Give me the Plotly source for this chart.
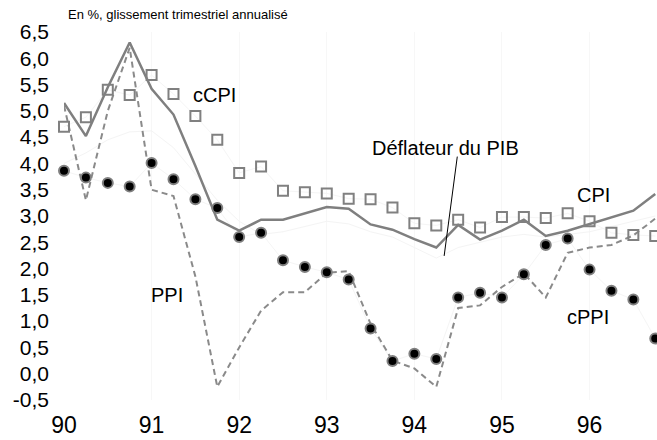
import plotly.graph_objects as go

# Quarterly dates (years 90..96, 4 quarters)
quarters = [90 + i * 0.25 for i in range(28)]

cpi = [5.15, 4.52, 5.45, 6.3, 5.42, 4.93, 3.95, 2.93,
       2.72, 2.93, 2.93, 3.05, 3.17, 3.14, 2.84, 2.74,
       2.56, 2.4, 2.83, 2.55, 2.72, 2.93, 2.62, 2.72,
       2.85, 2.97, 3.1, 3.42]

ppi = [5.1, 3.3, 5.0, 6.2, 3.5, 3.38, 1.85, -0.25,
       0.5, 1.2, 1.55, 1.55, 1.92, 1.95, 0.95, 0.25,
       0.1, -0.25, 1.25, 1.3, 1.65, 1.91, 1.45, 2.3,
       2.4, 2.45, 2.63, 2.95]

ccpi = [4.7, 4.88, 5.4, 5.3, 5.68, 5.32, 4.9, 4.45,
        3.82, 3.94, 3.48, 3.45, 3.43, 3.33, 3.32, 3.16,
        2.86, 2.82, 2.93, 2.78, 2.98, 2.98, 2.96, 3.05,
        2.9, 2.68, 2.64, 2.62]

cppi = [3.86, 3.73, 3.63, 3.56, 4.01, 3.7, 3.32, 3.15,
        2.6, 2.68, 2.16, 2.03, 1.93, 1.79, 0.86, 0.24,
        0.38, 0.28, 1.45, 1.54, 1.45, 1.89, 2.45, 2.57,
        1.98, 1.58, 1.41, 0.67]

deflator = [4.0, 4.2, 4.45, 4.6, 4.62, 4.3, 3.8, 3.3,
            2.9, 2.65, 2.7, 2.8, 2.9, 2.85, 2.7, 2.6,
            2.4, 2.2, 2.4, 2.5, 2.6, 2.65, 2.6, 2.65,
            2.7, 2.8, 2.9, 3.0]

year_ticks = [90, 91, 92, 93, 94, 95, 96]
year_labels = ["90", "91", "92", "93", "94", "95", "96"]
y_ticks = [-0.5, 0.0, 0.5, 1.0, 1.5, 2.0, 2.5, 3.0, 3.5, 4.0, 4.5, 5.0, 5.5, 6.0, 6.5]
y_labels = ["-0,5", "0,0", "0,5", "1,0", "1,5", "2,0", "2,5", "3,0", "3,5",
            "4,0", "4,5", "5,0", "5,5", "6,0", "6,5"]

FONT = "Liberation Sans, Arial, sans-serif"

fig = go.Figure()

# faint background lines
fig.add_trace(go.Scatter(x=quarters, y=deflator, mode="lines",
                         line=dict(color="#f4f4f4", width=1), cliponaxis=False))
fig.add_trace(go.Scatter(x=quarters, y=ccpi, mode="lines",
                         line=dict(color="#f5f5f5", width=1), cliponaxis=False))
fig.add_trace(go.Scatter(x=quarters, y=cppi, mode="lines",
                         line=dict(color="#f5f5f5", width=1), cliponaxis=False))

fig.add_trace(go.Scatter(x=quarters, y=ppi, mode="lines",
                         line=dict(color="#8a8a8a", width=2, dash="6px,4px"),
                         cliponaxis=False))
fig.add_trace(go.Scatter(x=quarters, y=cpi, mode="lines",
                         line=dict(color="#7f7f7f", width=2.5), cliponaxis=False))
fig.add_trace(go.Scatter(x=quarters, y=ccpi, mode="markers",
                         marker=dict(symbol="square-open", size=10, color="#808080",
                                     line=dict(color="#808080", width=2)),
                         cliponaxis=False))
fig.add_trace(go.Scatter(x=quarters, y=cppi, mode="markers",
                         marker=dict(symbol="circle", size=10, color="black",
                                     line=dict(color="#808080", width=2)),
                         cliponaxis=False))

# Déflateur pointer
fig.add_shape(type="line", x0=94.49, y0=4.13, x1=94.34, y1=2.24,
              xref="x", yref="y", line=dict(color="black", width=1))

annots = [
    dict(text="cCPI", x=91.72, y=5.3),
    dict(text="Déflateur du PIB", x=94.35, y=4.3),
    dict(text="CPI", x=96.05, y=3.4),
    dict(text="PPI", x=91.18, y=1.5),
    dict(text="cPPI", x=95.98, y=1.08),
]
for a in annots:
    fig.add_annotation(x=a["x"], y=a["y"], text=a["text"], showarrow=False,
                       xref="x", yref="y", font=dict(size=20, color="black", family=FONT))

fig.add_annotation(text="En %, glissement trimestriel annualisé", x=0, y=1,
                   xref="paper", yref="paper", xanchor="left", yanchor="bottom",
                   xshift=2, yshift=8, showarrow=False,
                   font=dict(size=13, color="black", family=FONT))

fig.update_layout(
    width=657, height=440,
    margin=dict(l=64, r=0, t=32, b=40, autoexpand=False),
    paper_bgcolor="white", plot_bgcolor="white",
    showlegend=False,
    font=dict(family=FONT, color="black"),
    xaxis=dict(range=[90, 96.77], tickvals=year_ticks, ticktext=year_labels,
               showgrid=True, gridcolor="#f7f7f7", zeroline=False, showline=False,
               ticks="", tickfont=dict(size=23, family=FONT, color="black"),
               ticklabelstandoff=9, automargin=False),
    yaxis=dict(range=[-0.5, 6.5], tickvals=y_ticks, ticktext=y_labels,
               showgrid=False, zeroline=False, showline=False,
               ticks="", tickfont=dict(size=21, family=FONT, color="black"),
               ticklabelstandoff=14, automargin=False),
)

fig.write_html("out.html", config={"displayModeBar": False},
               post_script="document.body.style.margin='0';document.body.style.overflow='hidden';")
